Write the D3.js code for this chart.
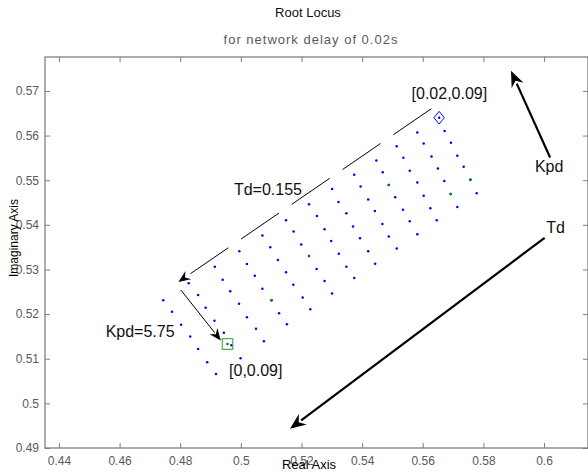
<!DOCTYPE html>
<meta charset="utf-8">
<style>
  body { margin: 0; background: #fff; }
  svg text { font-family: "Liberation Sans", Arial, sans-serif; }
  .tick text { font-size: 12px; fill: #595959; }
  .tick line { stroke: #808080; }
  .note { font-size: 16px; fill: #111; }
</style>
<body>
<script src="https://cdn.jsdelivr.net/npm/d3@7"></script>
<script>
  // closed loop roots, one list per Td step (13), 7 Kpd steps in each
  var rootsRe = [
    [0.5654, 0.5672, 0.5693, 0.5714, 0.5735, 0.5757, 0.5778],
    [0.5582, 0.5603, 0.5629, 0.5650, 0.5671, 0.5692, 0.5714],
    [0.5514, 0.5536, 0.5557, 0.5582, 0.5603, 0.5625, 0.5646],
    [0.5447, 0.5468, 0.5488, 0.5509, 0.5535, 0.5557, 0.5582],
    [0.5374, 0.5395, 0.5420, 0.5442, 0.5467, 0.5488, 0.5514],
    [0.5301, 0.5322, 0.5348, 0.5370, 0.5393, 0.5420, 0.5443],
    [0.5225, 0.5251, 0.5276, 0.5298, 0.5323, 0.5348, 0.5374],
    [0.5149, 0.5174, 0.5199, 0.5225, 0.5250, 0.5276, 0.5301],
    [0.5071, 0.5097, 0.5122, 0.5149, 0.5173, 0.5204, 0.5229],
    [0.4995, 0.5020, 0.5046, 0.5071, 0.5101, 0.5126, 0.5152],
    [0.4914, 0.4940, 0.4965, 0.4994, 0.5020, 0.5050, 0.5076],
    [0.4828, 0.4859, 0.4884, 0.4913, 0.4944, 0.4969, 0.4999],
    [0.4744, 0.4773, 0.4803, 0.4833, 0.4859, 0.4889, 0.4918]
  ];
  var rootsIm = [
    [0.5640, 0.5610, 0.5584, 0.5555, 0.5530, 0.5501, 0.5471],
    [0.5607, 0.5582, 0.5553, 0.5526, 0.5498, 0.5469, 0.5440],
    [0.5576, 0.5550, 0.5521, 0.5495, 0.5465, 0.5437, 0.5410],
    [0.5544, 0.5518, 0.5489, 0.5462, 0.5434, 0.5408, 0.5379],
    [0.5512, 0.5486, 0.5457, 0.5431, 0.5402, 0.5374, 0.5347],
    [0.5480, 0.5451, 0.5426, 0.5396, 0.5370, 0.5341, 0.5313],
    [0.5446, 0.5420, 0.5390, 0.5364, 0.5335, 0.5306, 0.5281],
    [0.5410, 0.5385, 0.5356, 0.5330, 0.5301, 0.5274, 0.5246],
    [0.5376, 0.5350, 0.5321, 0.5294, 0.5266, 0.5237, 0.5211],
    [0.5341, 0.5312, 0.5286, 0.5257, 0.5231, 0.5202, 0.5177],
    [0.5306, 0.5277, 0.5251, 0.5223, 0.5193, 0.5167, 0.5139],
    [0.5269, 0.5243, 0.5214, 0.5185, 0.5158, 0.5130, 0.5101],
    [0.5231, 0.5205, 0.5176, 0.5150, 0.5122, 0.5092, 0.5066]
  ];

  // roots that show up green
  var greenRe = [0.5757, 0.5692, 0.5488, 0.5225, 0.5101];
  var greenIm = [0.5501, 0.5469, 0.5489, 0.5330, 0.5231];

  // the two marked end points
  var diamondPt = [0.5654, 0.5640];   // [0.02,0.09]
  var squarePt = [0.4956, 0.5133];    // [0,0.09]

  var xTicks = [0.44, 0.46, 0.48, 0.5, 0.52, 0.54, 0.56, 0.58, 0.6];
  var yTicks = [0.49, 0.5, 0.51, 0.52, 0.53, 0.54, 0.55, 0.56, 0.57];
  var xDomain = [0.4354, 0.6145];
  var yDomain = [0.49, 0.5776];

  // annotations, in axis units
  var arrows = [
    { from: [0.5628, 0.5660], to: [0.4794, 0.5272], width: 1, dash: "46,15.5", head: "thin" },
    { from: [0.4802, 0.5254], to: [0.4934, 0.5141], width: 1, dash: null, head: "thin" },
    { from: [0.6020, 0.5551], to: [0.5891, 0.5745], width: 2.2, dash: null, head: "thick" },
    { from: [0.6002, 0.5371], to: [0.5162, 0.4943], width: 2.2, dash: null, head: "thick" }
  ];
  var notes = [
    { text: "[0.02,0.09]", at: [0.5563, 0.5682] },
    { text: "[0,0.09]", at: [0.4961, 0.5061] },
    { text: "Td=0.155", at: [0.4977, 0.5466] },
    { text: "Kpd=5.75", at: [0.4554, 0.5149] },
    { text: "Kpd", at: [0.5970, 0.5519] },
    { text: "Td", at: [0.6007, 0.5382] }
  ];

  var W = 588, H = 473;
  var box = { left: 45, right: 588, top: 57, bottom: 448 };

  var svg = d3.select("body").append("svg")
    .attr("width", W)
    .attr("height", H);

  var x = d3.scaleLinear().domain(xDomain).range([box.left, box.right]);
  var y = d3.scaleLinear().domain(yDomain).range([box.bottom, box.top]);
  var fmt = d3.format("~g");

  // axes, ticks point inwards
  svg.append("g")
    .attr("transform", "translate(0," + box.bottom + ")")
    .call(d3.axisBottom(x).tickValues(xTicks).tickSize(-5).tickPadding(8.5).tickFormat(fmt));
  svg.append("g")
    .attr("transform", "translate(0," + box.top + ")")
    .call(d3.axisTop(x).tickValues(xTicks).tickSize(-5).tickFormat(""));
  svg.append("g")
    .attr("transform", "translate(" + box.left + ",0)")
    .call(d3.axisLeft(y).tickValues(yTicks).tickSize(-5).tickPadding(6).tickFormat(fmt));
  svg.append("g")
    .attr("transform", "translate(" + box.right + ",0)")
    .call(d3.axisRight(y).tickValues(yTicks).tickSize(-5).tickFormat(""));
  svg.selectAll(".domain").remove();
  svg.selectAll(".tick text").attr("font-family", null).attr("font-size", null);

  svg.append("rect")
    .attr("x", box.left)
    .attr("y", box.top)
    .attr("width", box.right - box.left)
    .attr("height", box.bottom - box.top)
    .attr("fill", "none")
    .attr("stroke", "#808080")
    .attr("stroke-width", 1.3);

  // titles
  svg.append("text")
    .attr("x", 308).attr("y", 17)
    .attr("text-anchor", "middle")
    .style("font-size", "13px")
    .style("fill", "#111")
    .text("Root Locus");
  svg.append("text")
    .attr("x", 311).attr("y", 44)
    .attr("text-anchor", "middle")
    .style("font-size", "13px")
    .style("letter-spacing", "1px")
    .style("fill", "#595959")
    .text("for network delay of 0.02s");
  svg.append("text")
    .attr("x", 309).attr("y", 469)
    .attr("text-anchor", "middle")
    .style("font-size", "13px")
    .style("fill", "#000")
    .text("Real Axis");
  svg.append("text")
    .attr("transform", "translate(18,238) rotate(-90)")
    .attr("text-anchor", "middle")
    .style("font-size", "12px")
    .style("fill", "#000")
    .text("Imaginary Axis");

  // roots
  var pts = [];
  rootsRe.forEach(function(col, i) {
    col.forEach(function(re, j) {
      pts.push({ re: re, im: rootsIm[i][j] });
    });
  });

  svg.append("g").selectAll("circle")
    .data(pts)
    .enter().append("circle")
    .attr("cx", function(d) { return x(d.re); })
    .attr("cy", function(d) { return y(d.im); })
    .attr("r", 1.25)
    .attr("fill", "#0000ff");

  svg.append("g").selectAll("circle")
    .data(greenRe)
    .enter().append("circle")
    .attr("cx", function(d) { return x(d); })
    .attr("cy", function(d, i) { return y(greenIm[i]); })
    .attr("r", 1.25)
    .attr("fill", "#008000");

  // start / end markers
  var dx = x(diamondPt[0]), dy = y(diamondPt[1]);
  svg.append("path")
    .attr("d", "M" + dx + "," + (dy - 6.3) + "L" + (dx + 5.2) + "," + dy +
               "L" + dx + "," + (dy + 6.3) + "L" + (dx - 5.2) + "," + dy + "Z")
    .attr("fill", "none")
    .attr("stroke", "#0000ff")
    .attr("stroke-width", 1);

  svg.append("rect")
    .attr("x", x(squarePt[0]) - 5.3)
    .attr("y", y(squarePt[1]) - 5.3)
    .attr("width", 10.6)
    .attr("height", 10.6)
    .attr("fill", "none")
    .attr("stroke", "#2e9a2e")
    .attr("stroke-width", 1);
  svg.append("circle")
    .attr("cx", x(squarePt[0]))
    .attr("cy", y(squarePt[1]))
    .attr("r", 1.25)
    .attr("fill", "#008000");

  // arrows with a notched head
  var heads = { thin: { len: 12, half: 5, notch: 4 }, thick: { len: 16, half: 6.5, notch: 5 } };

  arrows.forEach(function(a) {
    var x0 = x(a.from[0]), y0 = y(a.from[1]);
    var x1 = x(a.to[0]), y1 = y(a.to[1]);
    var ang = Math.atan2(y1 - y0, x1 - x0);
    var h = heads[a.head];
    var ux = Math.cos(ang), uy = Math.sin(ang);
    var px = -uy, py = ux;
    // line stops inside the head
    var ex = x1 - ux * (h.len - 2), ey = y1 - uy * (h.len - 2);

    svg.append("line")
      .attr("x1", x0).attr("y1", y0)
      .attr("x2", ex).attr("y2", ey)
      .attr("stroke", "#000")
      .attr("stroke-width", a.width)
      .attr("stroke-dasharray", a.dash);

    var bx = x1 - ux * h.len, by = y1 - uy * h.len;
    var nx = x1 - ux * (h.len - h.notch), ny = y1 - uy * (h.len - h.notch);
    svg.append("path")
      .attr("d", "M" + x1 + "," + y1 +
                 "L" + (bx + px * h.half) + "," + (by + py * h.half) +
                 "L" + nx + "," + ny +
                 "L" + (bx - px * h.half) + "," + (by - py * h.half) + "Z")
      .attr("fill", "#000");
  });

  svg.append("g").selectAll("text")
    .data(notes)
    .enter().append("text")
    .attr("class", "note")
    .attr("x", function(d) { return x(d.at[0]); })
    .attr("y", function(d) { return y(d.at[1]); })
    .text(function(d) { return d.text; });
</script>
</body>
